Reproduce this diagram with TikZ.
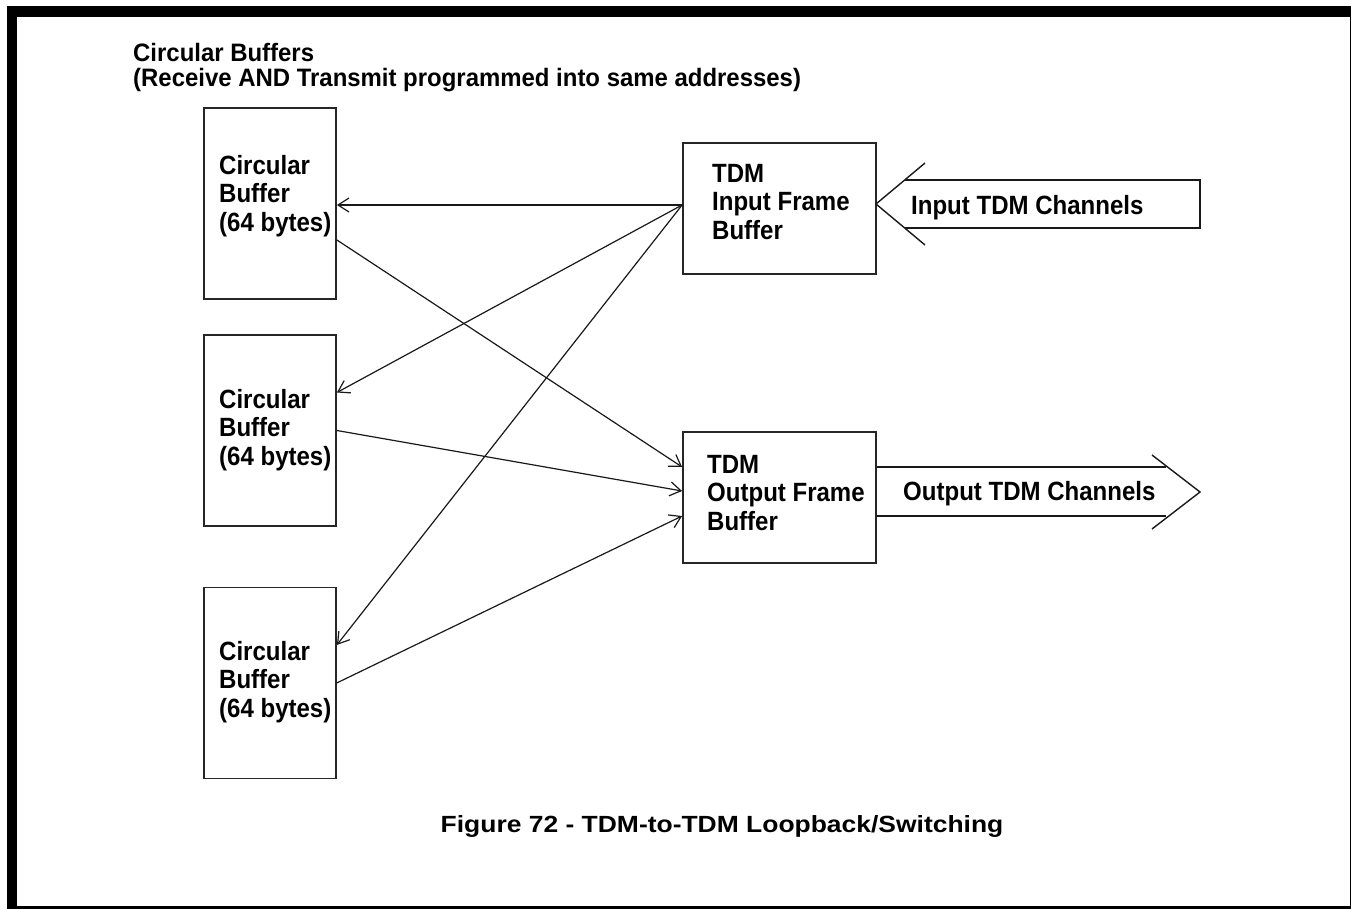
\documentclass[tikz,border=0pt]{standalone}
\usepackage{fontspec}
\setmainfont{Liberation Sans}
\newfontfamily\tallsans{Liberation Sans}[FakeStretch=0.91]
\newfontfamily\titlesans{Liberation Sans}[FakeStretch=0.95]
\newfontfamily\widesans{Liberation Sans}[FakeStretch=1.13]
\usetikzlibrary{positioning,arrows.meta,calc}
\tikzset{
  bufbox/.style={draw=black!85,line width=1.8pt,minimum width=132pt,minimum height=191pt,
    inner sep=0pt},
  fbbox/.style={draw=black!85,line width=1.8pt,minimum width=193pt,minimum height=131pt,
    inner sep=0pt},
  lbl/.style={font=\tallsans\fontsize{26.4}{28.5}\selectfont\bfseries,align=left,
    inner sep=0pt,anchor=north west},
  flow/.style={-{Straight Barb[length=11pt,width=14pt]},line width=1.2pt,draw=black!90},
  bigarrow/.style={line width=1.4pt,draw=black!90},
}
\begin{document}
\begin{tikzpicture}[x=1pt,y=-1pt]
  \useasboundingbox (0,0) rectangle (1351,909);
  % page frame
  \fill[black] (6.5,6.5) rectangle (1351,909);
  \fill[white] (17,17) rectangle (1350,906);

  \node[lbl,font=\titlesans\fontsize{25.2}{24.8}\selectfont\bfseries] (title) at (133,43)
    {Circular Buffers\\(Receive AND Transmit programmed into same addresses)};

  % circular buffers
  \node[bufbox] (b1) at (270,203.5) {};
  \node[bufbox,below=34.2pt of b1] (b2) {};
  \node[bufbox,below=59.6pt of b2] (b3) {};
  \node[lbl] (t1) at (219,155) {Circular\\Buffer\\(64 bytes)};
  \node[lbl] (t2) at (219,389) {Circular\\Buffer\\(64 bytes)};
  \node[lbl] (t3) at (219,641) {Circular\\Buffer\\(64 bytes)};

  % frame buffers
  \node[fbbox] (ifb) at (779.5,208.5) {};
  \node[fbbox,below=156.2pt of ifb] (ofb) {};
  \node[lbl] (ti) at (712,164) {TDM\\Input Frame\\Buffer};
  \node[lbl] (to) at (707,455) {TDM\\Output Frame\\Buffer};

  % input channels
  \coordinate (intip) at (876,204);
  \draw[bigarrow] ($(intip)+(49,-41)$) -- (intip) -- ($(intip)+(49,41)$);
  \draw[bigarrow] ($(intip)+(29,-24)$) -- ++(295,0) -- ++(0,48) -- ++(-295,0);
  \node[lbl,anchor=west] (inch) at (911,207.5) {Input TDM Channels};

  % output channels
  \coordinate (outtip) at (1200,492);
  \draw[bigarrow] ($(outtip)+(-48,-37)$) -- (outtip) -- ($(outtip)+(-48,37)$);
  \draw[bigarrow] (ofb.east |- 0,467) -- (1166,467) (ofb.east |- 0,516) -- (1166,516);
  \node[lbl,anchor=west] (outch) at (903,493.5) {Output TDM Channels};

  % switching paths
  \draw[flow] ([yshift=3.5pt]ifb.west) -- ([yshift=-1.5pt]b1.east);
  \draw[flow] ([yshift=3.5pt]ifb.west) -- ([yshift=38pt]b2.east);
  \draw[flow] ([yshift=3.5pt]ifb.west) -- ([yshift=38pt]b3.east);
  \draw[flow] ([yshift=-36.5pt]b1.east) -- ([yshift=30.5pt]ofb.west);
  \draw[flow] (b2.east) -- ([yshift=6.5pt]ofb.west);
  \draw[flow] (b3.east) -- ([yshift=-18.5pt]ofb.west);

  \node[font=\widesans\fontsize{23.4}{28}\selectfont\bfseries,inner sep=0pt,anchor=base]
    (cap) at (722,832) {Figure 72 - TDM-to-TDM Loopback/Switching};
\end{tikzpicture}
\end{document}
